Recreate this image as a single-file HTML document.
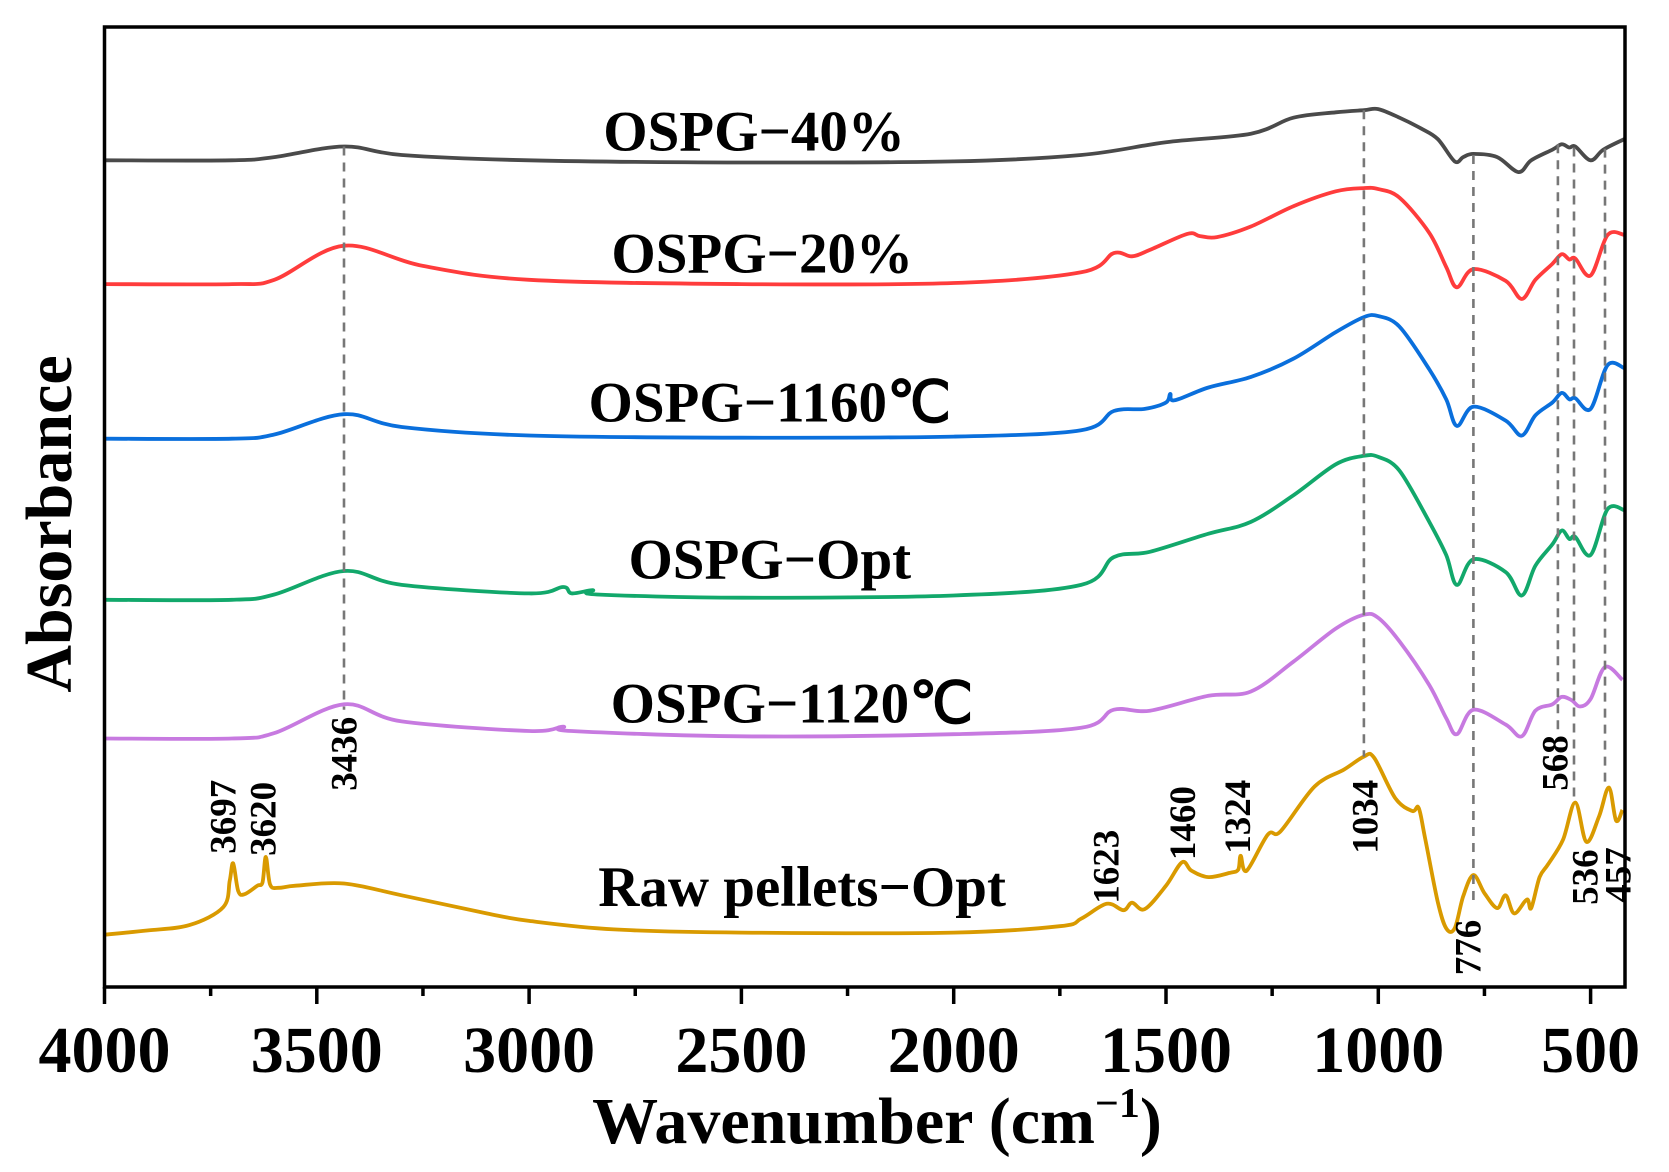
<!DOCTYPE html>
<html><head><meta charset="utf-8">
<style>
html,body{margin:0;padding:0;background:#fff;}
svg{display:block;}
text{font-family:"Liberation Serif","Times New Roman",serif;font-weight:bold;fill:#000;}
</style></head>
<body>
<svg id="chart" width="1669" height="1172" viewBox="0 0 1669 1172" xmlns="http://www.w3.org/2000/svg">
  <g id="series-layer"></g>
  <g id="dash-layer"></g>
  <g id="label-layer"></g>
  <g id="axis-layer"></g>
</svg>
<script>
// ---- data (wavenumber cm-1, absorbance in arbitrary offset units) ----
const wn40 = [4000,3700,3600,3436,3300,3000,2500,2000,1700,1500,1300,1200,1100,1034,1000,950,900,860,820,800,776,720,670,640,590,568,550,536,500,470,420];
const ab40 = [77.5,77.5,77.8,78.8,78.0,77.5,77.3,77.4,78.0,79.2,80.0,81.5,82.0,82.2,82.3,81.5,80.5,79.5,77.4,77.8,78.1,77.8,76.4,77.5,78.5,79.0,78.7,78.8,77.5,78.5,79.5];

const wn20 = [4000,3700,3600,3436,3250,3000,2500,2000,1700,1623,1580,1538,1450,1420,1380,1300,1200,1100,1034,1000,950,880,840,815,776,700,662,630,590,568,550,536,500,460,420];
const ab20 = [65.9,65.9,66.3,69.5,67.6,66.3,65.9,66.0,67.0,68.8,68.5,69.1,70.6,70.4,70.3,71.3,73.2,74.6,74.9,74.8,74.0,70.7,67.5,65.6,67.3,66.2,64.5,66.3,67.8,68.7,68.2,68.3,66.7,70.5,70.5];

const wn1160 = [4000,3700,3600,3436,3300,3000,2500,2000,1700,1623,1550,1500,1490,1480,1400,1300,1200,1100,1034,1000,950,880,840,815,776,700,662,630,590,568,550,536,500,460,420];
const ab1160 = [51.4,51.4,51.8,53.7,52.5,51.7,51.5,51.6,52.2,54.0,54.2,54.8,55.6,55.0,56.2,57.2,58.9,61.4,62.8,62.9,61.9,57.9,55.1,52.6,54.4,53.1,51.7,53.6,54.8,55.7,55.1,55.2,54.2,58.3,58.0];

const wnOpt = [4000,3700,3600,3436,3300,3000,2920,2900,2850,2840,2500,2000,1700,1623,1538,1400,1300,1200,1100,1034,1000,950,880,840,815,776,700,662,630,590,568,550,536,500,460,420];
const abOpt = [36.3,36.3,36.8,39.0,37.7,36.9,37.5,36.9,37.2,36.8,36.5,36.7,37.7,40.3,40.8,42.5,43.6,46.1,49.0,49.8,49.7,48.4,43.6,40.5,37.7,40.1,38.9,36.7,39.5,41.5,42.8,42.0,42.2,40.5,44.8,44.7];

const wn1120 = [4000,3700,3600,3436,3300,3000,2920,2900,2500,2000,1700,1623,1538,1400,1300,1200,1100,1034,1000,950,880,840,815,776,700,662,630,590,568,545,525,500,466,425];
const ab1120 = [23.3,23.3,23.8,26.5,24.9,24.0,24.4,24.0,23.5,23.7,24.3,26.0,25.9,27.3,27.7,30.5,33.6,34.9,34.6,32.4,28.3,25.2,23.7,26.0,24.6,23.5,25.9,26.5,27.2,26.9,26.3,27.0,30.0,28.8];

const wnRaw = [4000,3900,3800,3720,3705,3697,3685,3670,3640,3628,3620,3610,3590,3550,3436,3300,3100,3000,2800,2500,2000,1750,1700,1640,1600,1580,1550,1500,1462,1440,1400,1350,1330,1324,1310,1260,1230,1150,1080,1034,1010,960,920,905,890,860,840,820,800,776,750,720,700,680,650,640,620,600,565,536,510,480,457,440,425];
const abRaw = [4.9,5.3,5.8,7.5,10.0,11.6,9.0,8.7,9.5,9.8,12.2,9.6,9.3,9.5,9.7,8.6,6.9,6.2,5.4,5.1,5.1,5.7,6.4,7.8,7.2,7.9,7.3,9.5,11.7,10.9,10.3,10.7,11.0,12.3,10.9,14.3,14.6,18.8,20.4,21.6,21.5,17.7,16.5,16.8,14.0,8.0,5.5,5.5,8.5,10.5,8.8,7.4,8.6,6.9,8.2,7.4,10.3,11.5,13.8,17.3,13.6,16.0,18.7,15.6,16.6];

const seriesNames = ["OSPG−40%","OSPG−20%","OSPG−1160℃","OSPG−Opt","OSPG−1120℃","Raw pellets−Opt"];
const seriesKeys = ["ospg-40","ospg-20","ospg-1160c","ospg-opt","ospg-1120c","raw-pellets-opt"];
const seriesColors = ["#4a4a4a","#ff3c3c","#0a6fdc","#12a86b","#c77ae0","#d99a00"];
const seriesWn = [wn40,wn20,wn1160,wnOpt,wn1120,wnRaw];
const seriesAb = [ab40,ab20,ab1160,abOpt,ab1120,abRaw];
const labelWn = [2470,2451,2433,2433,2381,2357];
const labelAb = [78.4,67.0,53.0,38.3,24.8,7.6];

const peakWn = [3697,3620,3436,1623,1460,1324,1034,776,568,536,457];
const peakLabelAb = [12.5,12.3,18.4,7.8,11.9,12.5,12.5,1.1,18.4,7.7,7.9];
const peakLabelX = [3720,3625,3435,1640,1460,1330,1030,788,583,512,434];

const dashWn = [3436,1034,776,577,539,466];
const dashTop = [78.8,82.2,78.0,79.0,78.7,78.6];
const dashBot = [26.0,21.6,7.5,24.0,17.3,18.7];

const xTicksMajor = [4000,3500,3000,2500,2000,1500,1000,500];
const xTicksMinor = [3750,3250,2750,2250,1750,1250,750];

// ---- scales ----
const X0 = 104.5, PXW = 0.4246, LEFT = 104.5, RIGHT = 1625, TOP = 27, BOTTOM = 987;
function xs(w){ return X0 + (4000 - w) * PXW; }
function ys(v){ return BOTTOM - v * (BOTTOM - TOP) / 90; }

const NS = "http://www.w3.org/2000/svg";
function mk(tag, parent){ const e = document.createElementNS(NS, tag); parent.appendChild(e); return e; }

const sLayer = document.getElementById('series-layer');
const dLayer = document.getElementById('dash-layer');
const lLayer = document.getElementById('label-layer');
const aLayer = document.getElementById('axis-layer');

function smoothPath(px, py){
  let d = 'M' + px[0].toFixed(1) + ' ' + py[0].toFixed(1);
  const n = px.length, t = 1/6;
  for (let i = 0; i < n - 1; i++) {
    const i0 = Math.max(0, i - 1), i3 = Math.min(n - 1, i + 2);
    const c1x = px[i] + (px[i+1] - px[i0]) * t, c1y = py[i] + (py[i+1] - py[i0]) * t;
    const c2x = px[i+1] - (px[i3] - px[i]) * t, c2y = py[i+1] - (py[i3] - py[i]) * t;
    d += 'C' + c1x.toFixed(1) + ' ' + c1y.toFixed(1) + ' ' + c2x.toFixed(1) + ' ' + c2y.toFixed(1) + ' ' + px[i+1].toFixed(1) + ' ' + py[i+1].toFixed(1);
  }
  return d;
}

for (let s = 0; s < seriesNames.length; s++) {
  const p = mk('path', sLayer);
  const px = seriesWn[s].map(xs), py = seriesAb[s].map(ys);
  p.setAttribute('d', smoothPath(px, py));
  p.setAttribute('fill', 'none');
  p.setAttribute('stroke', seriesColors[s]);
  p.setAttribute('stroke-width', '3.8');
  p.setAttribute('stroke-linejoin', 'round');
  
  

  const t = mk('text', lLayer);
  t.textContent = seriesNames[s];
  t.setAttribute('x', xs(labelWn[s]).toFixed(1));
  t.setAttribute('y', ys(labelAb[s]).toFixed(1));
  t.setAttribute('text-anchor', 'middle');
  t.setAttribute('font-size', '57');
  
  
}

for (let i = 0; i < dashWn.length; i++) {
  const l = mk('line', dLayer);
  l.setAttribute('x1', xs(dashWn[i]).toFixed(1));
  l.setAttribute('x2', xs(dashWn[i]).toFixed(1));
  l.setAttribute('y1', ys(dashTop[i]).toFixed(1));
  l.setAttribute('y2', ys(dashBot[i]).toFixed(1));
  l.setAttribute('stroke', '#777');
  l.setAttribute('stroke-width', '2.6');
  l.setAttribute('stroke-dasharray', '9 7');
  
  
}

for (let i = 0; i < peakWn.length; i++) {
  const t = mk('text', lLayer);
  const x = xs(peakLabelX[i]) + 12, y = ys(peakLabelAb[i]);
  t.textContent = String(peakWn[i]);
  t.setAttribute('x', x.toFixed(1));
  t.setAttribute('y', y.toFixed(1));
  t.setAttribute('font-size', '37');
  t.setAttribute('transform', 'rotate(-90 ' + x.toFixed(1) + ' ' + y.toFixed(1) + ')');
  
  
}

const frame = mk('rect', aLayer);
frame.setAttribute('x', LEFT); frame.setAttribute('y', TOP);
frame.setAttribute('width', RIGHT - LEFT); frame.setAttribute('height', BOTTOM - TOP);
frame.setAttribute('fill', 'none'); frame.setAttribute('stroke', '#000'); frame.setAttribute('stroke-width', '3.5');



for (let i = 0; i < xTicksMajor.length; i++) {
  const x = xs(xTicksMajor[i]);
  const l = mk('line', aLayer);
  l.setAttribute('x1', x); l.setAttribute('x2', x);
  l.setAttribute('y1', BOTTOM); l.setAttribute('y2', BOTTOM + 17);
  l.setAttribute('stroke', '#000'); l.setAttribute('stroke-width', '3.5');
  
  
  const t = mk('text', aLayer);
  t.textContent = String(xTicksMajor[i]);
  t.setAttribute('x', x); t.setAttribute('y', 1072);
  t.setAttribute('text-anchor', 'middle'); t.setAttribute('font-size', '66');
  
  
}
for (let i = 0; i < xTicksMinor.length; i++) {
  const x = xs(xTicksMinor[i]);
  const l = mk('line', aLayer);
  l.setAttribute('x1', x); l.setAttribute('x2', x);
  l.setAttribute('y1', BOTTOM); l.setAttribute('y2', BOTTOM + 9);
  l.setAttribute('stroke', '#000'); l.setAttribute('stroke-width', '3.5');
  
  
}

const xt = mk('text', aLayer);
xt.setAttribute('x', 877); xt.setAttribute('y', 1143);
xt.setAttribute('text-anchor', 'middle'); xt.setAttribute('font-size', '66');


xt.innerHTML = 'Wavenumber (cm<tspan dy="-26" font-size="42">−1</tspan><tspan dy="26">)</tspan>';

const yt = mk('text', aLayer);
yt.textContent = 'Absorbance';
yt.setAttribute('x', 0); yt.setAttribute('y', 0);
yt.setAttribute('text-anchor', 'middle'); yt.setAttribute('font-size', '66');
yt.setAttribute('transform', 'translate(71 524) rotate(-90)');


</script>
</body></html>
